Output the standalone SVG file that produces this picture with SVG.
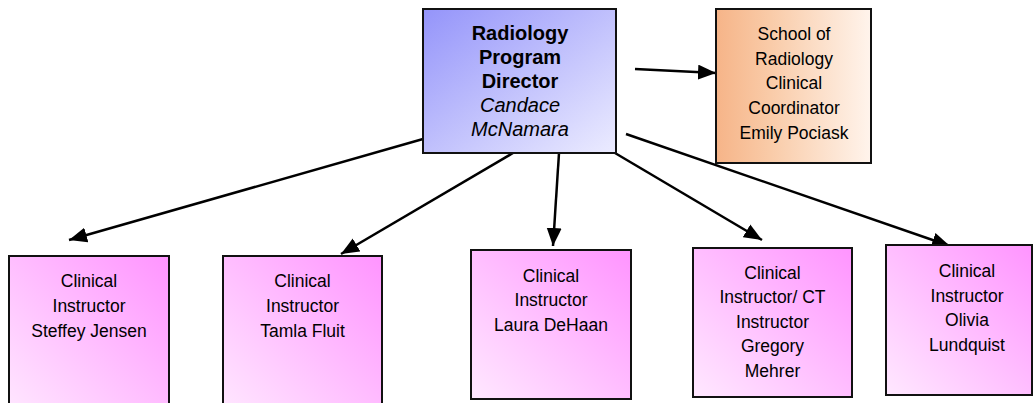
<svg xmlns="http://www.w3.org/2000/svg" width="1034" height="403" viewBox="0 0 1034 403">
<defs>
<linearGradient id="gDir" x1="0" y1="0" x2="1" y2="1">
<stop offset="0" stop-color="#9494FA"/>
<stop offset="1" stop-color="#ECECFF"/>
</linearGradient>
<linearGradient id="gCoord" x1="0" y1="0" x2="1" y2="0">
<stop offset="0" stop-color="#F6B488"/>
<stop offset="0.35" stop-color="#F9CBA8"/>
<stop offset="1" stop-color="#FFF4EC"/>
</linearGradient>
<linearGradient id="gPink" x1="1" y1="0" x2="0" y2="1">
<stop offset="0" stop-color="#FF94FF"/>
<stop offset="1" stop-color="#FFE8FF"/>
</linearGradient>
<marker id="arr" markerUnits="userSpaceOnUse" markerWidth="20" markerHeight="16" refX="18" refY="7.5" orient="auto">
<path d="M0,0 L18,7.5 L0,15 Z" fill="#000"/>
</marker>
<style>
.box{stroke:#111;stroke-width:2}
.t{font-family:"Liberation Sans",Arial,sans-serif;font-size:17.5px;fill:#000;text-anchor:middle}
.b{font-weight:bold;font-size:20px}
.i{font-style:italic;font-size:20px}
.c line{stroke:#000;stroke-width:2.5;marker-end:url(#arr)}
</style>
</defs>
<rect width="1034" height="403" fill="#fff"/>
<g class="c" id="connectors">
<line x1="423" y1="139" x2="69" y2="240"/>
<line x1="513" y1="153" x2="341" y2="254"/>
<line x1="559" y1="153" x2="553" y2="246"/>
<line x1="615" y1="153" x2="762" y2="240"/>
<line x1="626" y1="134" x2="950" y2="246"/>
<line x1="635" y1="69" x2="716" y2="73"/>
</g>
<g id="director">
<rect class="box" x="423" y="9" width="193" height="144" fill="url(#gDir)"/>
<text class="t b" x="520" y="40">Radiology</text>
<text class="t b" x="520" y="64">Program</text>
<text class="t b" x="520" y="88">Director</text>
<text class="t i" x="520" y="112">Candace</text>
<text class="t i" x="520" y="136">McNamara</text>
</g>
<g id="coordinator">
<rect class="box" x="716" y="9" width="155" height="154" fill="url(#gCoord)"/>
<text class="t" x="794" y="40">School of</text>
<text class="t" x="794" y="64.7">Radiology</text>
<text class="t" x="794" y="89.4">Clinical</text>
<text class="t" x="794" y="114">Coordinator</text>
<text class="t" x="794" y="138.7">Emily Pociask</text>
</g>
<g id="jensen">
<rect class="box" x="9" y="256" width="160" height="160" fill="url(#gPink)"/>
<text class="t" x="89" y="286.7">Clinical</text>
<text class="t" x="89" y="311.5">Instructor</text>
<text class="t" x="89" y="336.5">Steffey Jensen</text>
</g>
<g id="fluit">
<rect class="box" x="223" y="256" width="159" height="160" fill="url(#gPink)"/>
<text class="t" x="302.5" y="286.7">Clinical</text>
<text class="t" x="302.5" y="311.5">Instructor</text>
<text class="t" x="302.5" y="336.5">Tamla Fluit</text>
</g>
<g id="dehaan">
<rect class="box" x="471" y="250" width="160" height="149" fill="url(#gPink)"/>
<text class="t" x="551" y="281.7">Clinical</text>
<text class="t" x="551" y="306">Instructor</text>
<text class="t" x="551" y="330.7">Laura DeHaan</text>
</g>
<g id="mehrer">
<rect class="box" x="693" y="248" width="159" height="149" fill="url(#gPink)"/>
<text class="t" x="772.5" y="279">Clinical</text>
<text class="t" x="772.5" y="303.4">Instructor/ CT</text>
<text class="t" x="772.5" y="327.8">Instructor</text>
<text class="t" x="772.5" y="352.2">Gregory</text>
<text class="t" x="772.5" y="376.6">Mehrer</text>
</g>
<g id="lundquist">
<rect class="box" x="886" y="245" width="146" height="150" fill="url(#gPink)"/>
<text class="t" x="967" y="276.7">Clinical</text>
<text class="t" x="967" y="301.5">Instructor</text>
<text class="t" x="967" y="326">Olivia</text>
<text class="t" x="967" y="351">Lundquist</text>
</g>
</svg>
